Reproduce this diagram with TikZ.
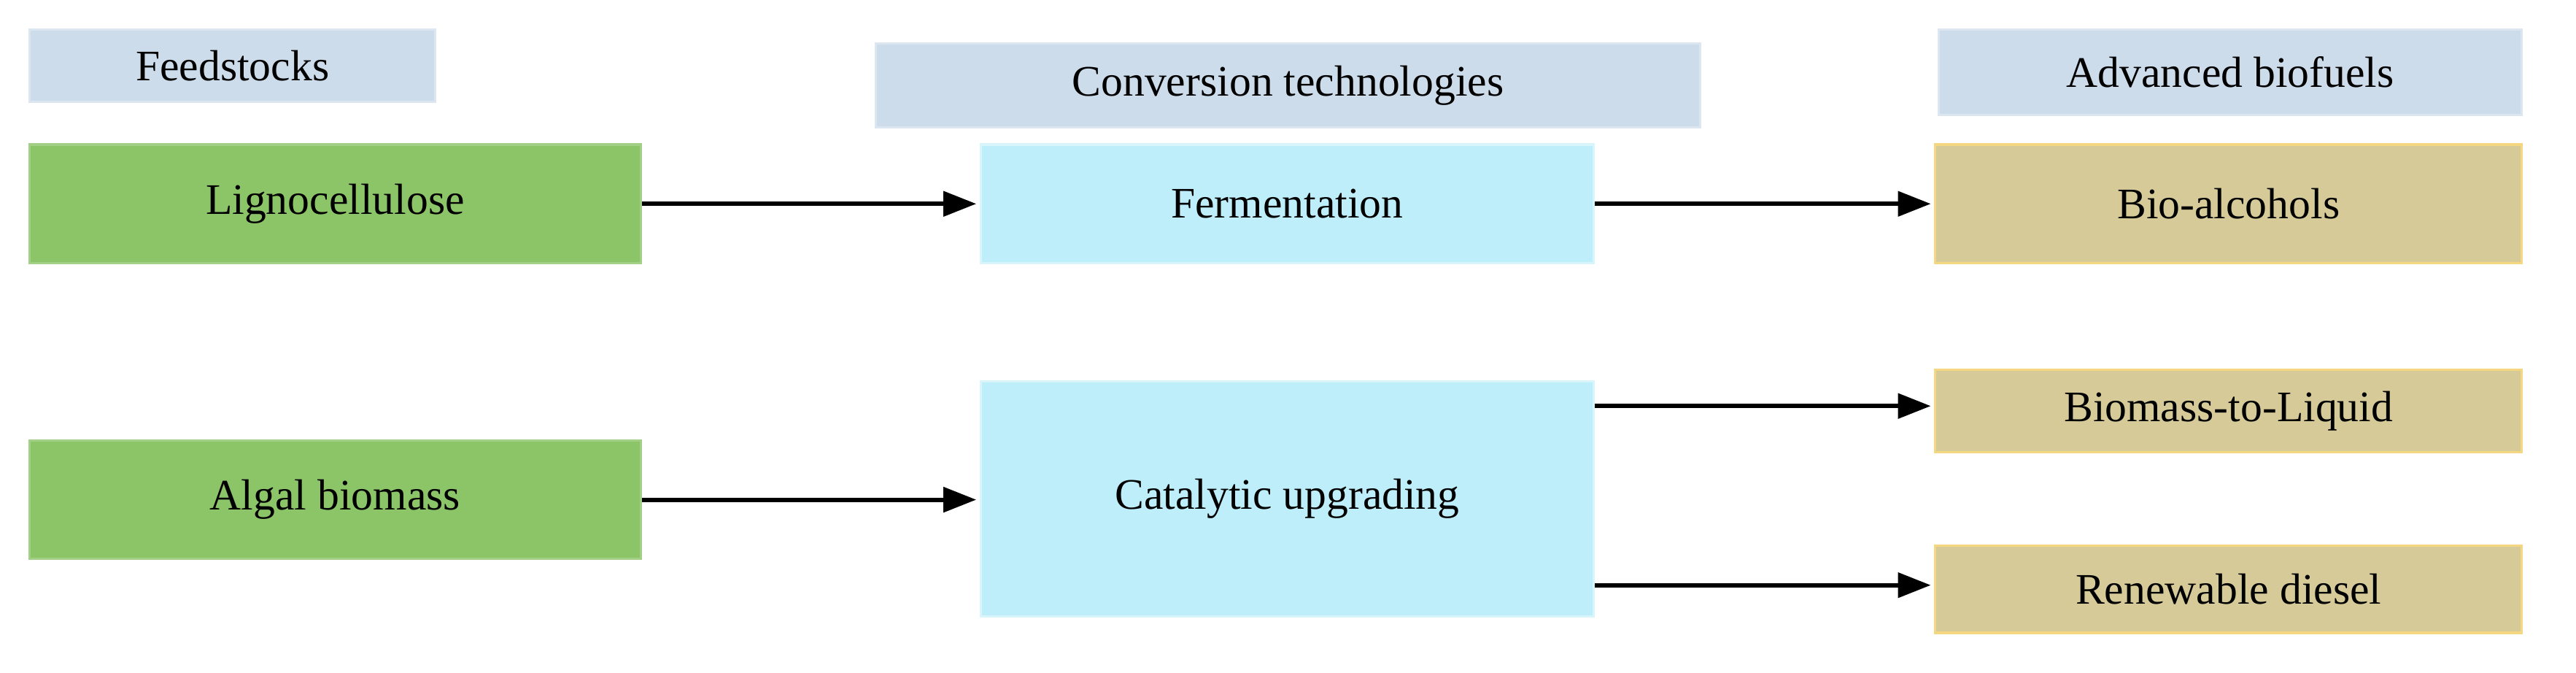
\documentclass[tikz,border=0pt]{standalone}
\usepackage{fontspec}
\usetikzlibrary{arrows.meta}
\setmainfont{Liberation Serif}
\begin{document}
\begin{tikzpicture}[x=1pt,y=-1pt,
  box/.style={draw, line width=1.5pt, inner sep=0pt, font=\fontsize{26.5}{32}\selectfont, text=black},
  hdr/.style={box, fill=hdrc, draw=hdrc!70!white},
  feed/.style={box, fill=feedc, draw=feedc!80!white},
  conv/.style={box, fill=convc, draw=convc!60!white},
  fuel/.style={box, fill=fuelc, draw=fuelb},
  arr/.style={-{Triangle[length=20pt,width=15pt]}, line width=2.6pt, shorten >=2pt}]
\definecolor{hdrc}{RGB}{205,220,235}
\definecolor{feedc}{RGB}{140,196,104}
\definecolor{convc}{RGB}{190,238,250}
\definecolor{fuelc}{RGB}{214,202,152}
\definecolor{fuelb}{RGB}{245,215,130}
\useasboundingbox (0,0) rectangle (1568,409);
\node[hdr, minimum width=247, minimum height=44] (h1) at (141.5,40) {Feedstocks};
\node[hdr, minimum width=502, minimum height=51] (h2) at (784,52) {Conversion technologies};
\node[hdr, minimum width=355, minimum height=52] (h3) at (1357.5,44) {Advanced biofuels};
\node[feed, minimum width=372, minimum height=72] (lig) at (204,124) {Lignocellulose};
\node[feed, minimum width=372, minimum height=72] (alg) at (204,304) {Algal biomass};
\node[conv, minimum width=373, minimum height=72] (fer) at (783.5,124) {Fermentation};
\node[conv, minimum width=373, minimum height=143] (cat) at (783.5,303.5) {Catalytic upgrading};
\node[fuel, minimum width=357, minimum height=72] (bio) at (1356.5,124) {Bio-alcohols};
\node[fuel, minimum width=357, minimum height=50] (btl) at (1356.5,250) {Biomass-to-Liquid};
\node[fuel, minimum width=357, minimum height=53] (ren) at (1356.5,358.5) {Renewable diesel};
\draw[arr] (lig.east) -- (fer.west);
\draw[arr] (fer.east) -- (bio.west);
\draw[arr] (alg.east) -- (alg.east -| cat.west);
\draw[arr] (cat.east |- 0,247) -- (btl.west |- 0,247);
\draw[arr] (cat.east |- 0,356) -- (ren.west |- 0,356);
\end{tikzpicture}
\end{document}
